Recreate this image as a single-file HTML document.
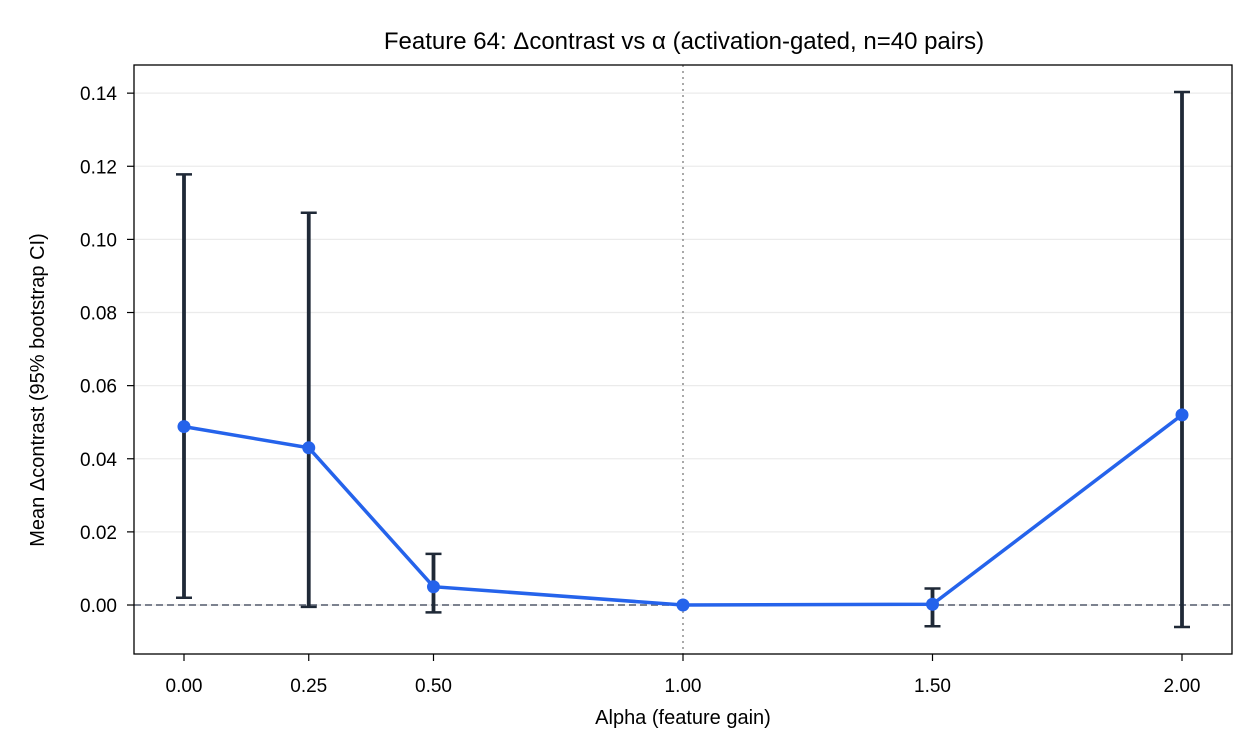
<!DOCTYPE html>
<html><head><meta charset="utf-8"><style>
body{margin:0;background:#fff;}
svg{display:block;font-family:"Liberation Sans","DejaVu Sans",sans-serif;}
</style></head><body>
<svg id="chart" width="1260" height="756">
<text x="684" y="49" text-anchor="middle" font-size="24">Feature 64: Δcontrast vs α (activation-gated, n=40 pairs)</text>
<text x="683" y="724" text-anchor="middle" font-size="20">Alpha (feature gain)</text>
<text transform="translate(44,390) rotate(-90)" text-anchor="middle" font-size="20">Mean Δcontrast (95% bootstrap CI)</text>
<g id="grid"></g><g id="refs"></g><g id="errs"></g><g id="series"></g><g id="axes"></g>
</svg>
<script>
const alphas=[0,0.25,0.5,1.0,1.5,2.0];
const means=[0.0488,0.0430,0.0050,0.0,0.0002,0.0520];
const ciLow=[0.0020,-0.0005,-0.0020,0.0,-0.0058,-0.0060];
const ciHigh=[0.1178,0.1073,0.0140,0.0,0.0045,0.1403];
const xTicks=[0,0.25,0.5,1.0,1.5,2.0];
const xTickLabels=["0.00","0.25","0.50","1.00","1.50","2.00"];
const yTicks=[0,0.02,0.04,0.06,0.08,0.10,0.12,0.14];
const yTickLabels=["0.00","0.02","0.04","0.06","0.08","0.10","0.12","0.14"];
const L=134,R=1232,T=65,B=654;
const xMin=-0.1002,xMax=2.1002,yMin=-0.0134,yMax=0.1477;
const X=v=>L+(v-xMin)/(xMax-xMin)*(R-L);
const Y=v=>B-(v-yMin)/(yMax-yMin)*(B-T);
const NS="http://www.w3.org/2000/svg";
function mk(parent,tag,attrs){const e=document.createElementNS(NS,tag);for(const k in attrs)e.setAttribute(k,attrs[k]);document.getElementById(parent).appendChild(e);return e;}
yTicks.forEach((t,i)=>{
 const g=mk('grid','line',{x1:L,x2:R,y1:Y(t),y2:Y(t),stroke:'#ebebeb','stroke-width':1.2});
 
 
 const tk=mk('axes','line',{x1:L-7,x2:L,y1:Y(t),y2:Y(t),stroke:'#000','stroke-width':1.2});
 
 
 const lb=mk('axes','text',{x:L-17,y:Y(t)+7,'text-anchor':'end','font-size':19});
 lb.textContent=yTickLabels[i];
 
 
});
xTicks.forEach((t,i)=>{
 const tk=mk('axes','line',{x1:X(t),x2:X(t),y1:B,y2:B+7,stroke:'#000','stroke-width':1.2});
 
 
 const lb=mk('axes','text',{x:X(t),y:B+38,'text-anchor':'middle','font-size':19});
 lb.textContent=xTickLabels[i];
 
 
});
const z=mk('refs','line',{x1:L,x2:R,y1:Y(0),y2:Y(0),stroke:'#6b7280','stroke-width':1.8,'stroke-dasharray':'7,4'});


const v1=mk('refs','line',{x1:X(1),x2:X(1),y1:T,y2:B,stroke:'#a0a0a0','stroke-width':1.8,'stroke-dasharray':'2,4'});


alphas.forEach((a,i)=>{
 if(ciHigh[i]===ciLow[i])return;
 const x=X(a);
 const e=mk('errs','path',{d:`M${x},${Y(ciLow[i])}V${Y(ciHigh[i])}`,stroke:'#1f2937','stroke-width':3.8,fill:'none'});
 
 
 const c=mk('errs','path',{d:`M${x-8},${Y(ciLow[i])}H${x+8}M${x-8},${Y(ciHigh[i])}H${x+8}`,stroke:'#1f2937','stroke-width':2.5,fill:'none'});
 
 
});
const ln=mk('series','polyline',{points:alphas.map((a,i)=>X(a)+','+Y(means[i])).join(' '),stroke:'#2563eb','stroke-width':3.5,fill:'none'});


alphas.forEach((a,i)=>{
 const c=mk('series','circle',{cx:X(a),cy:Y(means[i]),r:6.5,fill:'#2563eb'});
 
 
});
const fr=mk('axes','rect',{x:L,y:T,width:R-L,height:B-T,fill:'none',stroke:'#000','stroke-width':1.3});


</script>
</body></html>
